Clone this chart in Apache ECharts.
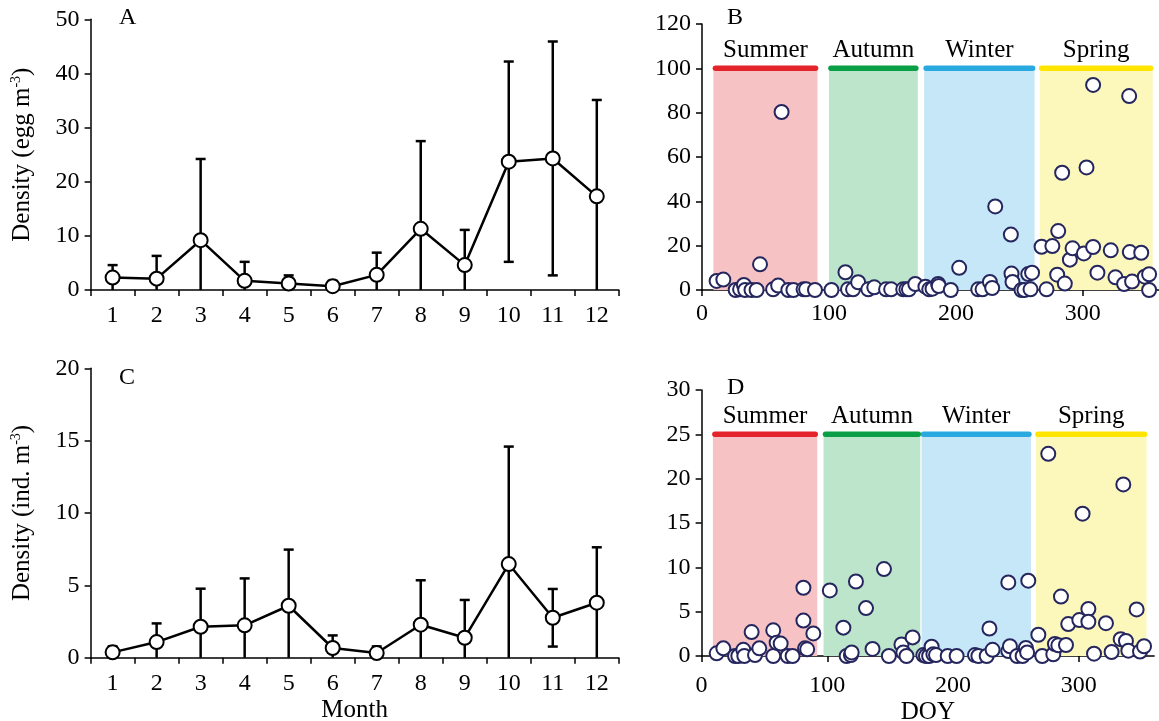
<!DOCTYPE html>
<html><head><meta charset="utf-8">
<style>html,body{margin:0;padding:0;background:#fff}#c{width:1159px;height:721px}</style>
<script src="https://cdn.jsdelivr.net/npm/echarts@6/dist/echarts.min.js"></script>
</head><body><div id="c"></div>
<script>
// ---- data ----
const months = ['1','2','3','4','5','6','7','8','9','10','11','12'];
const eggMean = [2.3,2.1,9.2,1.7,1.2,0.7,2.8,11.3,4.6,23.7,24.3,17.3];
const eggSD   = [2.3,4.2,15.0,3.5,1.5,1.0,4.1,16.2,6.5,18.5,21.6,17.8];
const indMean = [0.37,1.08,2.14,2.24,3.59,0.67,0.32,2.28,1.38,6.47,2.76,3.8];
const indSD   = [0.41,1.29,2.63,3.24,3.88,0.87,0.46,3.07,2.61,8.12,1.99,3.83];

const seasons = ['Summer','Autumn','Winter','Spring'];
const seasonStartB = [9,100,175,266];
const seasonEndB   = [91,170,262,355];
const seasonStartD = [9,97,175,266];
const seasonEndD   = [92,174,262,354];
const seasonFill = ['#f6c2c4','#bde5cb','#c5e7f7','#fcf7bb'];
const seasonBar  = ['#e4232a','#0a9f47','#29a9e0','#ffe500'];

const doyB = [11.5,16.8,26.5,30,33,34,39,43,45.7,56,60,62.7,68,72,80,82,89,
  102,113,115,119,123,131,135.7,145,149,158.5,161,163,168,
  176,179,181.6,186,186.5,196,202.6,217.6,221,226.8,228.6,231,243.3,243.8,244.6,251.7,254,257,258.8,260,
  267.5,271.4,276,280.6,279.8,283.7,285.8,289.8,291.9,300.8,302.9,308.1,308.1,311.5,322,325.7,332.5,336.5,337,338.8,346,348.8,352.2,352.2];
const eggB = [4.1,4.7,0,0.3,2.3,0,0,0,11.6,0.3,2,80.3,0,0,0.3,0.3,0,
  0,8,0.3,0.3,3.5,0.3,1.2,0.3,0.3,0.3,0.3,0.3,2.7,
  1.5,0.3,0.6,2.7,1.8,0,10,0.3,0.3,3.6,0.9,37.7,25,7.4,3.6,0,0,7.2,0.3,7.8,
  19.5,0.3,19.8,26.6,6.9,52.9,2.9,13.7,18.8,16.5,55.3,92.5,19.4,7.8,17.9,5.7,2.7,87.5,17.1,3.8,16.8,6,7.1,0];

const doyD = [12,17.3,26.6,29.2,33.2,34,39.8,42.5,45.9,57,57,59.7,62.9,68.5,72.4,81,81,82.3,84,88.9,
  102,112.8,115.4,118.8,119.4,122.8,130.8,136,145.1,149,159,160.5,163,167.9,
  176.4,178.5,181,183,184.4,186.5,195.8,202.9,217.5,220.2,226.8,229,231.5,244,244,245.3,251,255.4,258,259,259.9,
  267.9,271,275.8,279.8,281.1,283.8,285.9,289.9,291.7,300.5,303.1,307.7,307.7,312.2,321.7,326.2,333.4,335.5,337.6,339.5,346.1,348.8,352];
const indD = [0.3,0.86,0,0,0.7,0,2.7,0.1,0.86,2.9,0,1.5,1.4,0,0,7.7,4.0,0.86,0.75,2.55,
  7.4,3.2,0,0.1,0.4,8.4,5.4,0.8,9.8,0,1.3,0.4,0,2.1,
  0.1,0,0,1.05,0.2,0.1,0,0,0.1,0,0,3.1,0.7,8.3,0.56,1.1,0,0,0.9,0.4,8.5,
  2.4,0,22.8,0.2,1.35,1.2,6.7,1.24,3.6,4.05,16.05,5.3,3.86,0.26,3.7,0.45,1.9,19.35,1.7,0.6,5.25,0.5,1.1];

const yTicksA = [0,50,10];
const yTicksB = [0,120,20];
const yTicksC = [0,20,5];
const yTicksD = [0,30,5];
const doyTicks = [0,100,200,300];

// ---- drawing ----
const FONT = '"Liberation Serif", "Times New Roman", serif';
const chart = echarts.init(document.getElementById('c'), null, {renderer: 'canvas'});

function axisStyle(extra) {
  return Object.assign({
    axisLine: {show: true, onZero: false, lineStyle: {color: '#000', width: 1.5}},
    axisTick: {show: true, inside: false, length: 6, lineStyle: {color: '#000', width: 1.5}},
    axisLabel: {color: '#000', fontFamily: FONT, fontSize: 24, margin: 11},
    splitLine: {show: false}
  }, extra);
}

function errRender(params, api) {
  const x = api.value(0), m = api.value(1), s = api.value(2);
  const lo = Math.max(0, m - s), hi = m + s;
  const pH = api.coord([x, hi]), pL = api.coord([x, lo]);
  const cw = 5;
  const st = {stroke: '#000', lineWidth: 2.5};
  const ch = [
    {type: 'line', shape: {x1: pH[0], y1: pH[1], x2: pL[0], y2: pL[1]}, style: st},
    {type: 'line', shape: {x1: pH[0] - cw, y1: pH[1], x2: pH[0] + cw, y2: pH[1]}, style: st}
  ];
  if (m - s > 0.05) ch.push({type: 'line', shape: {x1: pL[0] - cw, y1: pL[1], x2: pL[0] + cw, y2: pL[1]}, style: st});
  return {type: 'group', children: ch};
}

function seasonRender(top, labelVal) {
  return function (params, api) {
    const i = api.value(2);
    const a = api.value(0), b = api.value(1);
    const p1 = api.coord([a, top]), p2 = api.coord([b, 0]);
    const lp = api.coord([(a + b) / 2, labelVal]);
    return {type: 'group', children: [
      {type: 'rect', shape: {x: p1[0], y: p1[1], width: p2[0] - p1[0], height: p2[1] - p1[1]}, style: {fill: seasonFill[i]}},
      {type: 'line', shape: {x1: p1[0] + 2, y1: p1[1], x2: p2[0] - 2, y2: p1[1]}, style: {stroke: seasonBar[i], lineWidth: 5.5, lineCap: 'round'}},
      {type: 'text', x: lp[0], y: lp[1], style: {text: seasons[i], fill: '#000', fontSize: 25, fontFamily: FONT, align: 'center', verticalAlign: 'middle'}}
    ]};
  };
}

const supRich = {sup: {fontSize: 14, fontFamily: FONT, color: '#000', padding: [0, 0, 12, 0]}};
const nameStyle = {color: '#000', fontFamily: FONT, fontSize: 25, rich: supRich};

const lineSeries = (idx, data) => ({
  type: 'line', xAxisIndex: idx, yAxisIndex: idx, data: data, z: 3,
  symbol: 'circle', symbolSize: 14, showAllSymbol: true,
  itemStyle: {color: '#fff', borderColor: '#000', borderWidth: 2},
  lineStyle: {color: '#000', width: 2.5}, emphasis: {disabled: true}
});
const errSeries = (idx, mean, sd) => ({
  type: 'custom', xAxisIndex: idx, yAxisIndex: idx, z: 2, clip: false,
  renderItem: errRender, data: mean.map((m, i) => [i, m, sd[i]])
});
const seasonSeries = (idx, starts, ends, top, labelVal) => ({
  type: 'custom', xAxisIndex: idx, yAxisIndex: idx, z: 1, clip: false,
  renderItem: seasonRender(top, labelVal), data: starts.map((s, i) => [s, ends[i], i])
});
const scatterSeries = (idx, xs, ys) => ({
  type: 'scatter', xAxisIndex: idx, yAxisIndex: idx, z: 3, symbolSize: 14,
  itemStyle: {color: '#fff', borderColor: '#25265e', borderWidth: 2, opacity: 1},
  emphasis: {disabled: true}, data: xs.map((x, i) => [x, ys[i]])
});

const doyAxis = (idx, name, margin, gap) => axisStyle({
  type: 'value', gridIndex: idx, min: 0, max: 360, interval: 100,
  name: name, nameLocation: 'middle', nameGap: gap, nameTextStyle: nameStyle,
  axisLabel: {color: '#000', fontFamily: FONT, fontSize: 24, margin: margin,
    customValues: doyTicks, formatter: v => (doyTicks.indexOf(v) >= 0 ? String(v) : '')},
  axisTick: {show: true, length: 6, customValues: doyTicks, lineStyle: {color: '#000', width: 1.5}}
});
const monthAxis = (idx, name, margin, gap) => axisStyle({
  type: 'category', gridIndex: idx, data: months, boundaryGap: true,
  name: name, nameLocation: 'middle', nameGap: gap, nameTextStyle: nameStyle,
  axisLabel: {color: '#000', fontFamily: FONT, fontSize: 24, margin: margin, interval: 0},
  axisTick: {show: true, length: 6, alignWithLabel: false, interval: 0, lineStyle: {color: '#000', width: 1.5}}
});
const valAxis = (idx, t, name) => axisStyle({
  type: 'value', gridIndex: idx, min: t[0], max: t[1], interval: t[2],
  name: name || '', nameLocation: 'middle', nameGap: 55, nameRotate: 90, nameTextStyle: nameStyle
});

const letter = (t, x, y) => ({type: 'text', left: x, top: y, style: {text: t, fill: '#000', fontSize: 24, fontFamily: FONT}});

chart.setOption({
  animation: false,
  backgroundColor: '#fff',
  grid: [
    {left: 90.6, top: 19.3, width: 528.2, height: 270.7, outerBoundsMode: 'none'},
    {left: 702, top: 24, width: 457, height: 266, outerBoundsMode: 'none'},
    {left: 90.6, top: 368.3, width: 528.2, height: 289.4, outerBoundsMode: 'none'},
    {left: 701.6, top: 390, width: 452.5, height: 266, outerBoundsMode: 'none'}
  ],
  xAxis: [monthAxis(0, '', 14, 40), doyAxis(1, '', 12, 40), monthAxis(2, 'Month', 14, 40), doyAxis(3, 'DOY', 18, 44)],
  yAxis: [
    valAxis(0, yTicksA, 'Density (egg m{sup|-3})'),
    valAxis(1, yTicksB),
    valAxis(2, yTicksC, 'Density (ind. m{sup|-3})'),
    valAxis(3, yTicksD)
  ],
  graphic: [letter('A', 119, 6), letter('B', 727, 6), letter('C', 119, 366), letter('D', 727, 376)],
  series: [
    errSeries(0, eggMean, eggSD), lineSeries(0, eggMean),
    seasonSeries(1, seasonStartB, seasonEndB, 100, 108), scatterSeries(1, doyB, eggB),
    errSeries(2, indMean, indSD), lineSeries(2, indMean),
    seasonSeries(3, seasonStartD, seasonEndD, 25, 27), scatterSeries(3, doyD, indD)
  ]
});
</script></body></html>
